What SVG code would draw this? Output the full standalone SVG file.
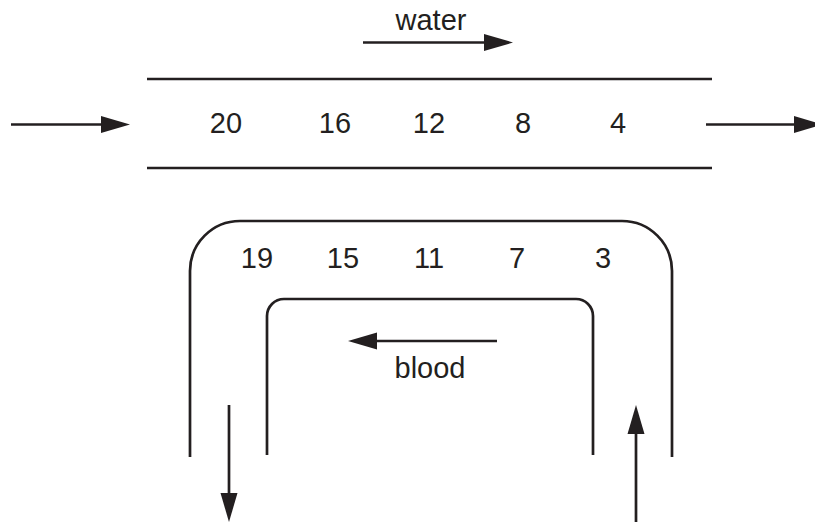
<svg xmlns="http://www.w3.org/2000/svg" width="815" height="523" viewBox="0 0 815 523">
  <style>
    .ln { stroke: #231f20; stroke-width: 2.7; fill: none; }
    .arr { stroke: #231f20; stroke-width: 2.7; fill: none; marker-end: url(#head); }
    .lbl { font-family: "Liberation Sans", Arial, sans-serif; font-size: 29px; fill: #231f20; text-anchor: middle; }
  </style>
  <defs>
    <marker id="head" markerUnits="userSpaceOnUse" markerWidth="30" markerHeight="18" refX="18" refY="8.5" orient="auto" overflow="visible">
      <path d="M0,0 L29,8.5 L0,17 Z" fill="#231f20"/>
    </marker>
  </defs>
  <rect width="815" height="523" fill="#ffffff"/>

  <g id="water-channel">
    <line class="ln" x1="147" y1="79" x2="712" y2="79"/>
    <line class="ln" x1="147" y1="168" x2="712" y2="168"/>
    <text class="lbl" x="226" y="133">20</text>
    <text class="lbl" x="335" y="133">16</text>
    <text class="lbl" x="429" y="133">12</text>
    <text class="lbl" x="523" y="133">8</text>
    <text class="lbl" x="618" y="133">4</text>
  </g>

  <g id="water-label">
    <text class="lbl" x="431" y="30">water</text>
  </g>

  <g id="blood-vessel">
    <path class="ln" d="M190,457 V271 A50,50 0 0 1 240,221 H622 A50,50 0 0 1 672,271 V457"/>
    <path class="ln" d="M267,455 V316 A17,17 0 0 1 284,299 H576 A17,17 0 0 1 593,316 V455"/>
    <text class="lbl" x="257" y="268">19</text>
    <text class="lbl" x="343" y="268">15</text>
    <text class="lbl" x="429" y="268">11</text>
    <text class="lbl" x="517" y="268">7</text>
    <text class="lbl" x="603" y="268">3</text>
  </g>

  <g id="blood-label">
    <text class="lbl" x="430" y="378">blood</text>
  </g>

  <g id="connectors">
    <line class="arr" x1="363" y1="42.5" x2="502" y2="42.5"/>
    <line class="arr" x1="11" y1="124.5" x2="119" y2="124.5"/>
    <line class="arr" x1="706" y1="124.5" x2="812" y2="124.5"/>
    <line class="arr" x1="497" y1="341" x2="359" y2="341"/>
    <line class="arr" x1="229" y1="405" x2="229" y2="511"/>
    <line class="arr" x1="636" y1="522" x2="636" y2="416"/>
  </g>
</svg>
